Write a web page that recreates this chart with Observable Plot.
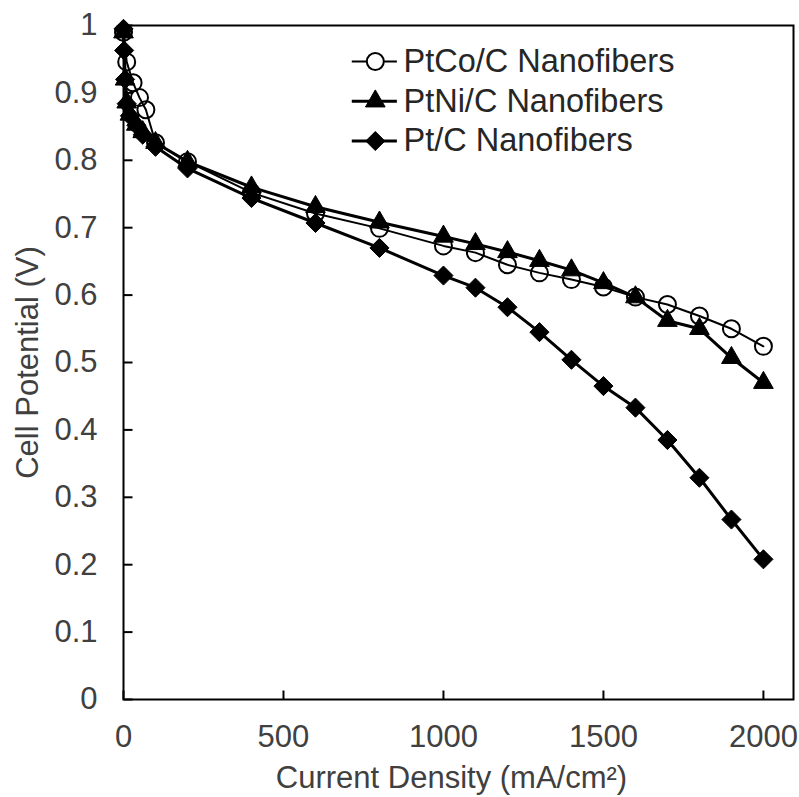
<!DOCTYPE html>
<html>
<head>
<meta charset="utf-8">
<script src="https://cdn.jsdelivr.net/npm/d3@7"></script>
<script src="https://cdn.jsdelivr.net/npm/@observablehq/plot@0.6"></script>
<style>
  html, body { margin: 0; padding: 0; background: #ffffff; }
</style>
</head>
<body>
<div id="chart"></div>
<script>
// ---------- data ----------
const seriesNames = ["PtCo/C Nanofibers", "PtNi/C Nanofibers", "Pt/C Nanofibers"];

const ptcoCurrent   = [0, 10, 30, 50, 70, 100, 200, 400, 600, 800, 1000, 1100, 1200, 1300, 1400, 1500, 1600, 1700, 1800, 1900, 2000];
const ptcoPotential = [0.99, 0.946, 0.915, 0.893, 0.875, 0.826, 0.798, 0.752, 0.721, 0.699, 0.673, 0.663, 0.645, 0.633, 0.623, 0.612, 0.597, 0.586, 0.569, 0.550, 0.524];

const ptniCurrent   = [0, 5, 10, 20, 40, 60, 100, 200, 400, 600, 800, 1000, 1100, 1200, 1300, 1400, 1500, 1600, 1700, 1800, 1900, 2000];
const ptniPotential = [0.99, 0.92, 0.886, 0.868, 0.853, 0.842, 0.826, 0.798, 0.760, 0.731, 0.708, 0.687, 0.676, 0.664, 0.651, 0.637, 0.618, 0.597, 0.562, 0.550, 0.507, 0.470];

const ptCurrent   = [0, 2, 5, 10, 20, 40, 60, 100, 200, 400, 600, 800, 1000, 1100, 1200, 1300, 1400, 1500, 1600, 1700, 1800, 1900, 2000];
const ptPotential = [0.995, 0.963, 0.92, 0.884, 0.866, 0.852, 0.838, 0.820, 0.788, 0.744, 0.707, 0.670, 0.629, 0.611, 0.582, 0.545, 0.504, 0.465, 0.433, 0.385, 0.329, 0.267, 0.208];

const xTicks = [0, 500, 1000, 1500, 2000];
const yTicks = [0, 0.1, 0.2, 0.3, 0.4, 0.5, 0.6, 0.7, 0.8, 0.9, 1];
const yTickLabels = ["0", "0.1", "0.2", "0.3", "0.4", "0.5", "0.6", "0.7", "0.8", "0.9", "1"];
const xTitle = "Current Density (mA/cm²)";
const yTitle = "Cell Potential (V)";

// ---------- build ----------
const seriesData = [
  {name: seriesNames[0], current: ptcoCurrent, potential: ptcoPotential},
  {name: seriesNames[1], current: ptniCurrent, potential: ptniPotential},
  {name: seriesNames[2], current: ptCurrent,   potential: ptPotential}
];
const seriesStyle = [
  {symbol: "circle",   r: 8.5, fill: "none",  stroke: "#000", markerStroke: 2,   lineWidth: 2},
  {symbol: "triangle", r: 7.3, fill: "#000",  stroke: "#000", markerStroke: 1,   lineWidth: 3},
  {symbol: "diamond2", r: 8.6, fill: "#000",  stroke: "#000", markerStroke: 1,   lineWidth: 3}
];

const rows = s => s.current.map((c, i) => ({current: c, potential: s.potential[i]}));

// inward tick marks drawn as custom symbols
const tickLen = 9;
const tickUp = {draw(ctx) { ctx.moveTo(0, 0); ctx.lineTo(0, -tickLen); }};
const tickRight = {draw(ctx) { ctx.moveTo(0, 0); ctx.lineTo(tickLen, 0); }};

// legend placement in data space
const legendTop = 0.9466, legendStep = 0.0590;
const legendLineX1 = 715, legendLineX2 = 856, legendMarkX = 787, legendTextX = 875;
const legendRows = seriesNames.map((name, i) => ({name, y: legendTop - i * legendStep}));

const marks = [];
seriesData.forEach((s, i) => {
  const st = seriesStyle[i];
  const d = rows(s);
  marks.push(Plot.line(d, {x: "current", y: "potential", stroke: "#000", strokeWidth: st.lineWidth, strokeLinejoin: "round"}));
  marks.push(Plot.dot(d, {x: "current", y: "potential", symbol: st.symbol, r: st.r, fill: st.fill, stroke: st.stroke, strokeWidth: st.markerStroke}));
});

// legend
legendRows.forEach((row, i) => {
  const st = seriesStyle[i];
  marks.push(Plot.ruleY([row], {y: "y", x1: legendLineX1, x2: legendLineX2, stroke: "#000", strokeWidth: st.lineWidth}));
  marks.push(Plot.dot([row], {x: legendMarkX, y: "y", symbol: st.symbol, r: st.r, fill: st.symbol === "circle" ? "#fff" : st.fill, stroke: st.stroke, strokeWidth: st.markerStroke}));
  marks.push(Plot.text([row], {x: legendTextX, y: "y", text: "name", textAnchor: "start", lineAnchor: "middle", fill: "#262626", fontSize: 32.5}));
});

const chart = Plot.plot({
  width: 799,
  height: 797,
  marginLeft: 123,
  marginRight: 6,
  marginTop: 25,
  marginBottom: 98,
  style: {fontFamily: "'Liberation Sans', Arial, sans-serif", fontSize: "31px", color: "#404040", background: "#fff"},
  x: {domain: [0, 2094]},
  y: {domain: [0, 1]},
  marks: [
    Plot.axisX({ticks: xTicks, tickFormat: d => String(d), tickSize: 0, tickPadding: 25, label: null, fontSize: 31}),
    Plot.axisY({ticks: yTicks, tickFormat: d => yTickLabels[yTicks.indexOf(d)], tickSize: 0, tickPadding: 26, label: null, fontSize: 31}),
    Plot.dot(xTicks, {x: d => d, frameAnchor: "bottom", symbol: tickUp, stroke: "#000", strokeWidth: 2, fill: "none"}),
    Plot.dot(yTicks, {y: d => d, frameAnchor: "left", symbol: tickRight, stroke: "#000", strokeWidth: 2, fill: "none"}),
    Plot.frame({stroke: "#000", strokeWidth: 2}),
    Plot.text([xTitle], {text: d => d, frameAnchor: "bottom", textAnchor: "middle", dy: 79, dx: -7, lineAnchor: "middle", fontSize: 31}),
    Plot.text([yTitle], {text: d => d, frameAnchor: "left", textAnchor: "middle", rotate: -90, dx: -95, lineAnchor: "middle", fontSize: 31}),
    ...marks
  ]
});
document.getElementById("chart").appendChild(chart);
</script>
</body>
</html>
